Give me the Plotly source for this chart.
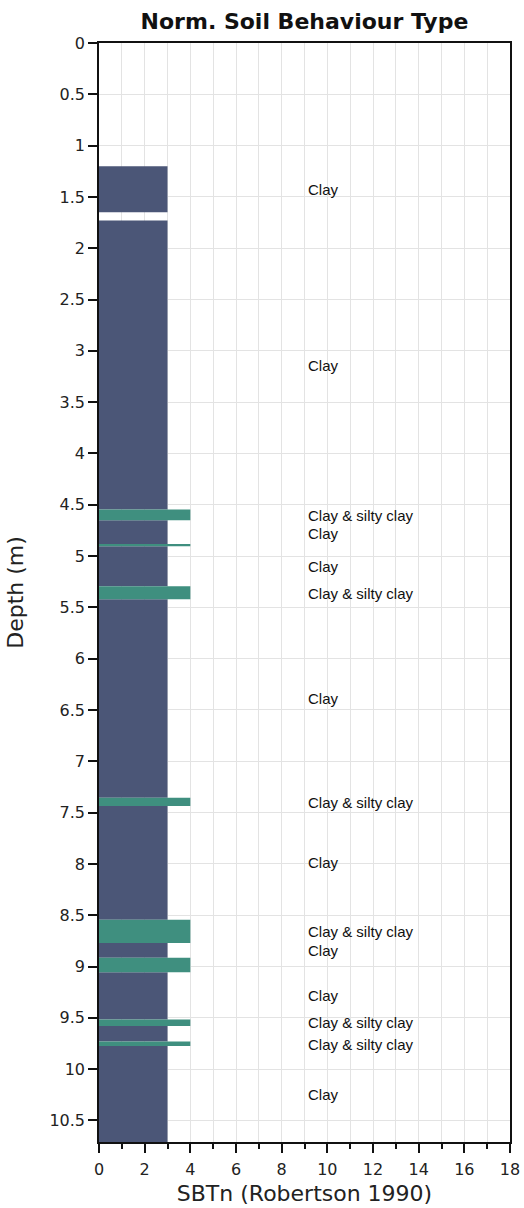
import plotly.graph_objects as go

# Layer data
layer_top = [1.20, 1.73, 4.545, 4.65, 4.89, 4.905, 5.295, 5.42, 7.355, 7.435,
             8.545, 8.77, 8.915, 9.055, 9.515, 9.58, 9.73, 9.775]
layer_bottom = [1.65, 4.545, 4.65, 4.89, 4.905, 5.295, 5.42, 7.355, 7.435, 8.545,
                8.77, 8.915, 9.055, 9.515, 9.58, 9.73, 9.775, 10.71]
layer_sbtn = [3, 3, 4, 3, 4, 3, 4, 3, 4, 3, 4, 3, 4, 3, 4, 3, 4, 3]

label_text = ["Clay", "Clay", "Clay & silty clay", "Clay", "Clay", "Clay & silty clay",
              "Clay", "Clay & silty clay", "Clay", "Clay & silty clay", "Clay", "Clay",
              "Clay & silty clay", "Clay & silty clay", "Clay"]
label_depth = [1.43, 3.14, 4.60, 4.78, 5.10, 5.36, 6.39, 7.40, 7.99, 8.66, 8.84, 9.28,
               9.545, 9.755, 10.25]
label_x = 9.05

zone_colors = {3: "#4b5677", 4: "#3f8f7f"}

x_range = [0, 18]
y_range = [10.71, 0]

W, H = 524, 1208

fig = go.Figure()
for zone in sorted(set(layer_sbtn)):
    idx = [i for i, z in enumerate(layer_sbtn) if z == zone]
    fig.add_trace(go.Bar(
        orientation="h",
        y=[(layer_top[i] + layer_bottom[i]) / 2 for i in idx],
        x=[layer_sbtn[i] for i in idx],
        width=[layer_bottom[i] - layer_top[i] for i in idx],
        base=0,
        marker=dict(color=zone_colors[zone], line=dict(width=0)),
        hoverinfo="skip",
        showlegend=False,
    ))

for t, d in zip(label_text, label_depth):
    fig.add_annotation(x=label_x, y=d, text=t, showarrow=False, xanchor="left",
                       yanchor="middle",
                       font=dict(family="Liberation Sans, Arial", size=15, color="#111"))

grid_col = "#e3e3e3"
fig.update_layout(
    width=W, height=H,
    margin=dict(l=99, r=14, t=43, b=66, autoexpand=False),
    paper_bgcolor="white", plot_bgcolor="white",
    barmode="overlay",
    title=dict(text="<b>Norm. Soil Behaviour Type</b>", x=(99 + 510) / 2 / W,
               xanchor="center", y=1 - 21 / H, yanchor="middle", yref="container",
               font=dict(family="DejaVu Sans", size=22, color="#111")),
    font=dict(family="DejaVu Sans", color="#222"),
)
fig.update_xaxes(
    range=x_range, dtick=2, tick0=0, automargin=False,
    showgrid=True, gridcolor=grid_col, gridwidth=1,
    minor=dict(dtick=1, showgrid=True, gridcolor=grid_col, ticks="outside",
               ticklen=5, tickcolor="#111"),
    ticks="outside", ticklen=9, tickwidth=1.5, tickcolor="#111",
    showline=True, linecolor="#111", linewidth=1.5, mirror=True,
    zeroline=False, ticklabelstandoff=3,
    tickfont=dict(family="DejaVu Sans", size=16, color="#222"),
    title=dict(text="SBTn (Robertson 1990)", standoff=8,
               font=dict(family="DejaVu Sans", size=22, color="#222")),
)
fig.update_yaxes(
    range=y_range, dtick=0.5, tick0=0, automargin=False,
    showgrid=True, gridcolor=grid_col, gridwidth=1,
    ticks="outside", ticklen=9, tickwidth=1.5, tickcolor="#111",
    showline=True, linecolor="#111", linewidth=1.5, mirror=True,
    zeroline=False,
    tickfont=dict(family="DejaVu Sans", size=16, color="#222"),
    title=dict(text="Depth (m)", standoff=20,
               font=dict(family="DejaVu Sans", size=22, color="#222")),
)

fig.write_html("out.html", config={"displayModeBar": False},
               post_script="document.body.style.margin='0';document.body.style.overflow='hidden';")
